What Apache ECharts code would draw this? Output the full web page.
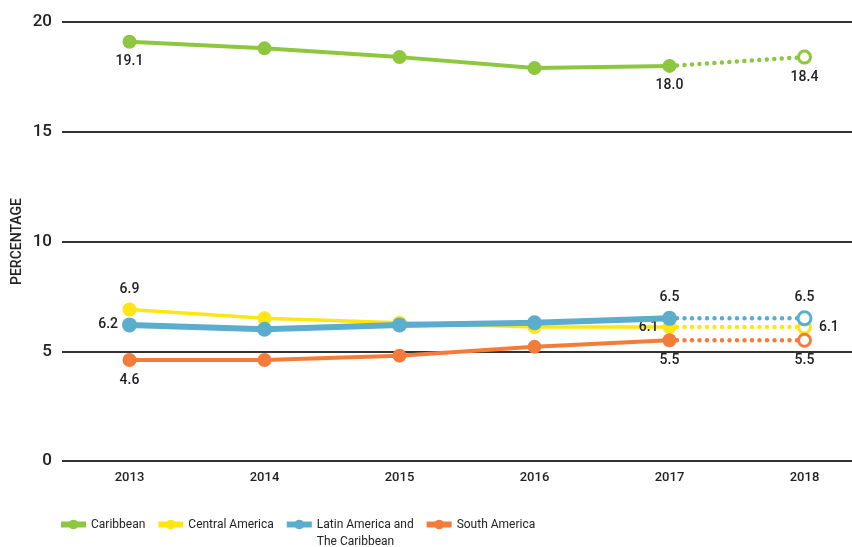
<!DOCTYPE html>
<html>
<head>
<meta charset="utf-8">
<script src="https://cdn.jsdelivr.net/npm/echarts@6/dist/echarts.min.js"></script>
<style>
  html, body { margin: 0; padding: 0; background: #fff; }
  #chart { width: 852px; height: 547px; }
</style>
</head>
<body>
<div id="chart"></div>
<script>
// Years on the horizontal axis; the last one is a projection (dotted)
const years = ['2013', '2014', '2015', '2016', '2017', '2018'];

// Percentages per region
const caribbean      = [19.1, 18.8, 18.4, 17.9, 18.0, 18.4];
const centralAmerica = [6.9, 6.5, 6.3, 6.1, 6.1, 6.1];
const latinAmerica   = [6.2, 6.0, 6.2, 6.3, 6.5, 6.5];
const southAmerica   = [4.6, 4.6, 4.8, 5.2, 5.5, 5.5];

const yTicks = [0, 5, 10, 15, 20];

const regionNames = ['Caribbean', 'Central America', 'Latin America and\nThe Caribbean', 'South America'];

// Style and label placement for each region
const regionStyles = [
  { values: caribbean,      color: '#8dc63f', width: 4,   size: 14, labels: { 0: 'bottom', 4: 'bottom', 5: 'bottom' } },
  { values: centralAmerica, color: '#ffe512', width: 3.5, size: 14, labels: { 0: 'top', 4: 'left', 5: 'right' } },
  { values: latinAmerica,   color: '#5badcd', width: 6,   size: 15, labels: { 0: 'left', 4: 'top', 5: 'top' } },
  { values: southAmerica,   color: '#f47c3a', width: 4,   size: 14, labels: { 0: 'bottom', 4: 'bottom', 5: 'bottom' } }
];

const labelFont = {
  color: '#222',
  fontFamily: 'Roboto, "Liberation Sans", sans-serif',
  fontWeight: 500,
  fontSize: 14,
  distance: 6,
  backgroundColor: '#fff',
  padding: [0, 1]
};

function pointLabel(pos) {
  const lab = Object.assign({ show: true, position: pos, formatter: p => p.value.toFixed(1) }, labelFont);
  if (pos === 'left') { lab.distance = 3; lab.backgroundColor = 'transparent'; }
  return lab;
}

const series = [];
regionStyles.forEach((r, i) => {
  const last = years.length - 1;
  // Observed years: solid line
  const solid = r.values.map((v, k) => {
    if (k === last) return '-';
    const item = { value: v };
    if (r.labels[k]) item.label = pointLabel(r.labels[k]);
    return item;
  });
  // Projection: dotted line ending in a hollow marker
  const dotted = r.values.map((v, k) => {
    if (k < last - 1) return '-';
    const item = { value: v };
    if (k === last) {
      item.symbol = 'circle';
      item.symbolSize = r.size - 2;
      item.itemStyle = { color: '#fff', borderColor: r.color, borderWidth: 3 };
      if (r.labels[k]) item.label = pointLabel(r.labels[k]);
    } else {
      item.symbol = 'none';
    }
    return item;
  });
  series.push({
    name: regionNames[i],
    type: 'line',
    data: solid,
    symbol: 'circle',
    symbolSize: r.size,
    showAllSymbol: true,
    color: r.color,
    lineStyle: { width: r.width, color: r.color },
    itemStyle: { color: r.color },
    z: 2 + i,
    animation: false
  });
  series.push({
    name: regionNames[i],
    type: 'line',
    data: dotted,
    symbol: 'circle',
    color: r.color,
    lineStyle: { width: 4.5, color: r.color, type: [0, 7.5], cap: 'round' },
    z: 2 + i,
    animation: false
  });
});

const chart = echarts.init(document.getElementById('chart'), null, { renderer: 'canvas' });
chart.setOption({
  backgroundColor: '#fff',
  animation: false,
  // the plot area runs past the right edge of the canvas
  grid: { left: 62, width: 810, top: 22, bottom: 86, containLabel: false, outerBoundsMode: 'none' },
  xAxis: {
    type: 'category',
    data: years,
    boundaryGap: true,
    axisLine: { show: false },
    axisTick: { show: false },
    axisLabel: {
      margin: 10,
      color: '#222',
      fontFamily: 'Roboto, "Liberation Sans", sans-serif',
      fontWeight: 500,
      fontSize: 13
    }
  },
  yAxis: {
    type: 'value',
    min: yTicks[0],
    max: yTicks[yTicks.length - 1],
    interval: 5,
    name: 'PERCENTAGE',
    nameLocation: 'middle',
    nameGap: 38,
    nameMoveOverlap: false,
    nameRotate: 90,
    nameTextStyle: {
      color: '#222',
      fontFamily: 'Roboto, "Liberation Sans", sans-serif',
      fontWeight: 500,
      fontSize: 14
    },
    axisLine: { show: false },
    axisTick: { show: false },
    axisLabel: {
      margin: 10,
      color: '#222',
      fontFamily: 'Roboto, "Liberation Sans", sans-serif',
      fontWeight: 500,
      fontSize: 17
    },
    splitLine: { lineStyle: { color: '#333', width: 2 } }
  },
  legend: {
    data: regionNames,
    left: 53,
    top: 494,
    itemWidth: 25,
    itemHeight: 12,
    itemGap: 10,
    lineStyle: { width: 6 },
    // keep the first line of each name level with the legend marker
    formatter: name => name.indexOf('\n') >= 0 ? ' \n' + name : name,
    textStyle: {
      color: '#222',
      fontFamily: 'Roboto, "Liberation Sans", sans-serif',
      fontSize: 12,
      lineHeight: 17
    }
  },
  series: series
});
</script>
</body>
</html>
